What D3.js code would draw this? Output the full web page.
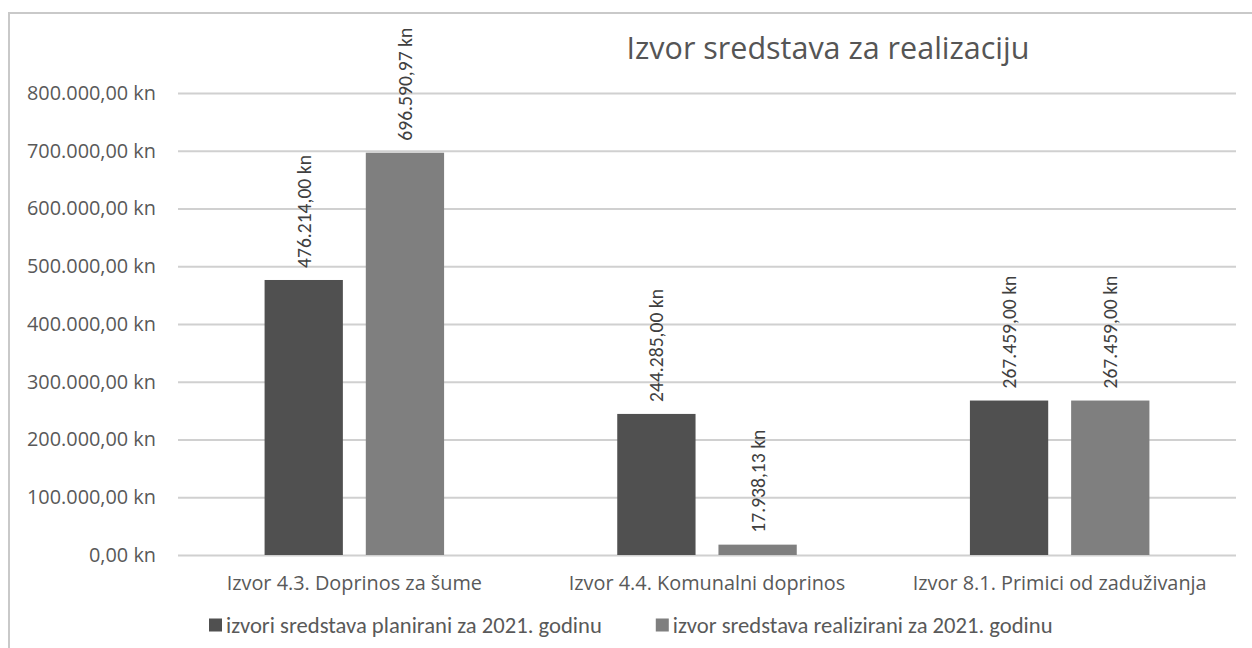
<!DOCTYPE html>
<html><head><meta charset="utf-8">
<script src="https://cdn.jsdelivr.net/npm/d3@7"></script>
<style>
html,body{margin:0;padding:0;background:#fff;}
svg{display:block;}
</style></head>
<body>
<svg id="chart" width="1252" height="648"></svg>
<script>
const title = "Izvor sredstava za realizaciju";
const categories = ["Izvor 4.3. Doprinos za šume", "Izvor 4.4. Komunalni doprinos", "Izvor 8.1. Primici od zaduživanja"];
const seriesNames = ["izvori sredstava planirani za 2021. godinu", "izvor sredstava realizirani za 2021. godinu"];
const planned = [476214.00, 244285.00, 267459.00];
const realized = [696590.97, 17938.13, 267459.00];
const yTicks = [0, 100000, 200000, 300000, 400000, 500000, 600000, 700000, 800000];
const colors = ["#505050", "#7f7f7f"];

const segoe = "'Open Sans', 'Noto Sans', sans-serif";
const calibri = "Carlito, 'Liberation Sans Narrow', 'DejaVu Sans Condensed', 'Liberation Sans', sans-serif";

const ctx = document.createElement("canvas").getContext("2d");
function fit(text, family, target) {
  ctx.font = "100px " + family;
  return 100 * target / ctx.measureText(text).width;
}
function fmt(v) {
  const parts = v.toFixed(2).split(".");
  const intPart = parts[0].replace(/\B(?=(\d{3})+(?!\d))/g, ".");
  return intPart + "," + parts[1] + " kn";
}

const svg = d3.select("#chart");
const W = 1252, H = 648;
const plot = {left: 178, right: 1236, top: 93, bottom: 555};

// frame
svg.append("rect").attr("x", 9).attr("y", 13).attr("width", W + 20).attr("height", H + 20)
  .attr("fill", "#fff").attr("stroke", "#c9c9c9").attr("stroke-width", 2);

const x0 = d3.scaleBand().domain(categories).range([plot.left, plot.right]).paddingInner(0).paddingOuter(0);
const y = d3.scaleLinear().domain([0, 800000]).range([plot.bottom, plot.top]);

// gridlines + y labels
const yAxisFont = fit("800.000,00 kn", segoe, 129);
const yAxis = d3.axisLeft(y).tickValues(yTicks).tickFormat(fmt).tickSize(-(plot.right - plot.left)).tickPadding(22);
const gy = svg.append("g").attr("transform", `translate(${plot.left},0)`).call(yAxis);
gy.select(".domain").remove();
gy.selectAll(".tick line").attr("stroke", "#d0d0d0").attr("stroke-width", 2);
gy.selectAll(".tick text").attr("fill", "#595959").style("font-family", segoe).style("font-size", yAxisFont + "px");

// bars
const bw = x0.bandwidth();
const barW = bw * 0.222, gap = bw * 0.065;
const data = categories.map((c, i) => ({c, vals: [planned[i], realized[i]]}));
const labelFont = fit("476.214,00 kn", calibri, 113);
data.forEach(d => {
  const cx = x0(d.c) + bw / 2;
  d.vals.forEach((v, s) => {
    const bx = s === 0 ? cx - gap / 2 - barW : cx + gap / 2;
    svg.append("rect").attr("x", bx).attr("y", y(v)).attr("width", barW).attr("height", y(0) - y(v))
      .attr("fill", colors[s]);
    const lx = bx + barW / 2, ly = y(v) - 12;
    svg.append("text").attr("transform", `translate(${lx},${ly}) rotate(-90)`)
      .attr("text-anchor", "start").attr("dominant-baseline", "central")
      .attr("fill", "#404040").style("font-family", calibri).style("font-size", labelFont + "px")
      .text(fmt(v));
  });
});

// category axis labels
const catFont = fit(categories[2], segoe, 294);
const xAxis = d3.axisBottom(x0).tickSize(0).tickPadding(0);
const gx = svg.append("g").attr("transform", `translate(0,${plot.bottom})`).call(xAxis);
gx.select(".domain").remove();
gx.selectAll(".tick text").attr("dy", null).attr("y", 27).attr("dominant-baseline", "central")
  .attr("fill", "#595959").style("font-family", segoe).style("font-size", catFont + "px");

// title
const titleFont = fit(title, segoe, 403);
svg.append("text").attr("x", 828).attr("y", 47).attr("text-anchor", "middle").attr("dominant-baseline", "central")
  .attr("fill", "#555555").style("font-family", segoe).style("font-size", titleFont + "px").text(title);

// legend
const legFont = fit(seriesNames[0], calibri, 376);
ctx.font = legFont + "px " + calibri;
let lx = 209;
const ly = 625;
seriesNames.forEach((n, i) => {
  svg.append("rect").attr("x", lx).attr("y", ly - 6.5).attr("width", 13).attr("height", 13).attr("fill", colors[i]);
  svg.append("text").attr("x", lx + 17).attr("y", ly).attr("dominant-baseline", "central")
    .attr("fill", "#595959").style("font-family", calibri).style("font-size", legFont + "px").text(n);
  lx += 17 + ctx.measureText(n).width + 54;
});
</script>
</body></html>
